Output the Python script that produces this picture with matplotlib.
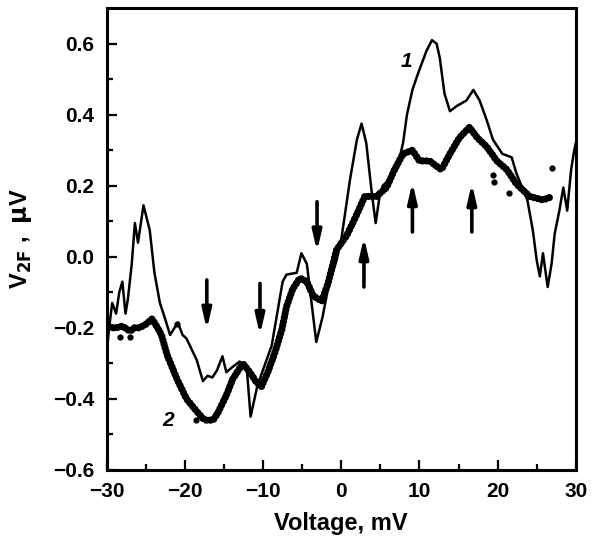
import matplotlib

matplotlib.use("Agg")
import matplotlib.pyplot as plt

plt.rcParams["font.family"] = ["Liberation Sans", "DejaVu Sans"]
plt.rcParams["font.weight"] = "bold"

# curve 1 (thin line), voltage in mV, signal in uV
v1 = [-30.0, -29.7, -29.3, -28.8, -28.4, -28.0, -27.6, -27.3, -26.8, -26.4,
      -26.0, -25.3, -24.5, -23.9, -23.2, -22.6, -21.9, -20.9, -20.3, -19.8,
      -18.5, -17.7, -17.1, -16.5, -15.9, -15.2, -14.7, -13.9, -13.0, -12.1,
      -11.6, -10.8, -10.2, -8.9, -7.5, -7.0, -5.7, -5.1, -4.4, -3.2,
      -2.4, -1.7, -0.6, 0.05, 1.1, 2.0, 2.6, 3.2, 3.9, 4.4,
      4.9, 5.3, 6.2, 7.1, 7.9, 8.4, 9.1, 9.8, 10.9, 11.6,
      12.2, 12.6, 13.2, 13.9, 14.8, 16.0, 16.9, 17.7, 18.6, 19.4,
      20.6, 21.8, 22.4, 23.8, 24.5, 25.0, 25.4, 25.8, 26.4, 26.9,
      27.3, 27.9, 28.4, 28.9, 29.4, 29.8, 30.0]
s1 = [-0.27, -0.20, -0.13, -0.16, -0.10, -0.07, -0.16, -0.12, -0.02, 0.095,
      0.04, 0.145, 0.075, -0.045, -0.13, -0.17, -0.22, -0.185, -0.22, -0.23,
      -0.29, -0.35, -0.335, -0.34, -0.32, -0.28, -0.325, -0.31, -0.295, -0.31,
      -0.45, -0.37, -0.33, -0.25, -0.07, -0.05, -0.045, 0.01, -0.02, -0.24,
      -0.17, -0.09, -0.01, 0.056, 0.215, 0.33, 0.375, 0.32, 0.18, 0.095,
      0.17, 0.20, 0.22, 0.245, 0.32, 0.40, 0.47, 0.515, 0.58, 0.61,
      0.60, 0.56, 0.46, 0.41, 0.425, 0.44, 0.47, 0.44, 0.385, 0.33,
      0.29, 0.28, 0.235, 0.16, 0.075, -0.01, -0.055, 0.01, -0.085, -0.02,
      0.065, 0.13, 0.195, 0.13, 0.245, 0.30, 0.32]

# curve 2 (thick dotted band)
v2 = [-30.0, -29.5, -28.8, -28.0, -27.0, -26.5, -25.8, -25.0, -24.2, -23.5,
      -23.0, -22.3, -21.0, -19.8, -18.5, -17.5, -16.4, -15.8, -14.7, -13.9,
      -12.6, -11.7, -10.8, -10.2, -9.4, -8.5, -7.6, -7.0, -6.2, -5.3,
      -4.4, -3.6, -2.5, -1.7, -0.6, 0.7, 2.0, 3.0, 4.5, 5.8,
      6.8, 7.9, 9.1, 10.0, 11.3, 12.8, 13.9, 15.1, 16.4, 17.4,
      18.6, 19.9, 21.2, 22.4, 24.1, 25.8, 27.0]
s2 = [-0.19, -0.20, -0.20, -0.195, -0.21, -0.20, -0.20, -0.19, -0.175, -0.20,
      -0.22, -0.275, -0.345, -0.40, -0.435, -0.46, -0.46, -0.44, -0.39, -0.345,
      -0.30, -0.325, -0.355, -0.365, -0.325, -0.27, -0.205, -0.14, -0.09, -0.06,
      -0.07, -0.11, -0.125, -0.075, 0.02, 0.06, 0.12, 0.17, 0.17, 0.195,
      0.245, 0.29, 0.30, 0.27, 0.27, 0.245, 0.29, 0.335, 0.365, 0.335,
      0.31, 0.27, 0.245, 0.205, 0.17, 0.16, 0.17]

# stray points of curve 2
v2_stray = [-28.3, -27.0, -21.0, -18.6, 19.4, 19.6, 21.5, 27.0]
s2_stray = [-0.225, -0.225, -0.19, -0.46, 0.23, 0.21, 0.18, 0.25]

# arrows: x position, tail and head value
arrow_x = [-17.2, -10.4, -3.1, 2.9, 9.1, 16.7]
arrow_tail = [-0.065, -0.075, 0.155, -0.085, 0.07, 0.07]
arrow_head = [-0.205, -0.22, 0.015, 0.055, 0.21, 0.207]

fig = plt.figure(figsize=(5.93, 5.47), dpi=100)
ax = fig.add_axes([0.180, 0.141, 0.791, 0.844])

ax.plot(v1, s1, color="black", lw=1.8, solid_joinstyle="round")
ax.plot(v2, s2, color="black", lw=5.2, linestyle=(0, (0.01, 0.55)),
        dash_capstyle="round", solid_joinstyle="round")
ax.plot(v2_stray, s2_stray, "o", color="black", ms=4.5, mew=0)

for x, t, h in zip(arrow_x, arrow_tail, arrow_head):
    ax.annotate("", xy=(x, h), xytext=(x, t),
                arrowprops=dict(arrowstyle="-|>,head_length=1.3,head_width=0.3",
                                mutation_scale=9, lw=2.6, color="black",
                                shrinkA=0, shrinkB=0))

ax.text(8.4, 0.55, "1", fontsize=15, style="italic", ha="center", va="center")
ax.text(-22.2, -0.46, "2", fontsize=15, style="italic", ha="center", va="center")

ax.set_xlim(-30, 30)
ax.set_ylim(-0.6, 0.7)
ax.set_xticks([-30, -20, -10, 0, 10, 20, 30])
ax.set_xticklabels(["\u221230", "\u221220", "\u221210", "0", "10", "20", "30"])
ax.set_xticks([-25, -15, -5, 5, 15, 25], minor=True)
ax.set_yticks([-0.6, -0.4, -0.2, 0.0, 0.2, 0.4, 0.6])
ax.set_yticklabels(["\u22120.6", "\u22120.4", "\u22120.2", "0.0", "0.2", "0.4", "0.6"])
ax.set_yticks([-0.5, -0.3, -0.1, 0.1, 0.3, 0.5], minor=True)

ax.tick_params(which="major", direction="in", length=7, width=1.6,
               labelsize=15, pad=9)
ax.tick_params(which="minor", direction="in", length=4, width=1.6)
for sp in ax.spines.values():
    sp.set_linewidth(2.2)

ax.set_xlabel("Voltage, mV", fontsize=17, fontweight="bold", labelpad=8)
ax.set_ylabel(r"V$_{\mathbf{2F}}$ ,  $\mathbf{\mu}$V", fontsize=17,
              fontweight="bold", labelpad=14)

fig.savefig("out.png", dpi=100)
